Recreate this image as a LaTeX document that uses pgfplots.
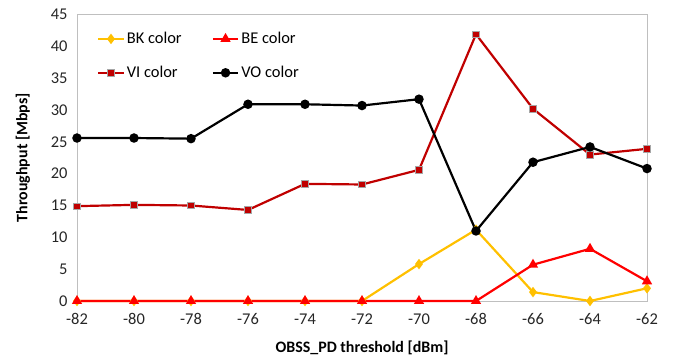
\documentclass[border=0pt]{standalone}
\usepackage{fontspec}
\setmainfont{Carlito}
\usepackage{pgfplots}
\pgfplotsset{compat=1.18}
\definecolor{bkc}{HTML}{FFC000}
\definecolor{bec}{HTML}{FF0000}
\definecolor{vic}{HTML}{C00000}
\definecolor{frame}{HTML}{BFBFBF}
\begin{document}
\begin{tikzpicture}
\begin{axis}[
  name=ax,
  scale only axis,
  width=570bp, height=286.5bp,
  xmin=-82, xmax=-62, ymin=0, ymax=45,
  xtick={-82,-80,...,-62}, ytick={0,5,...,45},
  major tick length=0pt,
  axis line style={frame, line width=0.8pt},
  /pgf/number format/assume math mode=true,
  ticklabel style={font=\fontsize{16.5}{18}\selectfont, text=black!85},
  xticklabel style={yshift=-9bp},
  yticklabel style={xshift=-6bp},
  xlabel={\textbf{OBSS\_PD threshold [dBm]}},
  ylabel={\textbf{Throughput [Mbps]}},
  label style={font=\fontsize{16}{18}\selectfont},
  xlabel style={yshift=-9bp},
  ylabel style={yshift=14bp},
  legend columns=2,
  legend cell align=left,
  legend style={draw=none, fill=none, at={(0.035,0.945)}, anchor=north west,
    font=\fontsize{16.5}{19}\selectfont, row sep=17bp, inner sep=0pt,
    /tikz/every even column/.append style={column sep=28bp}},
  legend image code/.code={\draw[mark repeat=2,mark phase=2] plot coordinates {(0cm,0cm) (0.45cm,0cm) (0.9cm,0cm)};},
  clip=false,
]
\addplot[bkc, line width=2.2pt, mark=diamond*, mark size=3.5pt, mark options={fill=bkc}] coordinates {
(-82,0) (-80,0) (-78,0) (-76,0) (-74,0) (-72,0) (-70,5.8) (-68,11.2) (-66,1.4) (-64,0) (-62,2.0)};
\addlegendentry{BK color}
\addplot[bec, line width=2.2pt, mark=triangle*, mark size=3.8pt, mark options={fill=bec}] coordinates {
(-82,0) (-80,0) (-78,0) (-76,0) (-74,0) (-72,0) (-70,0) (-68,0) (-66,5.7) (-64,8.2) (-62,3.1)};
\addlegendentry{BE color}
\addplot[vic, line width=2.2pt, mark=square*, mark size=3.3pt, mark options={fill=vic, draw=gray!70, line width=0.6pt}] coordinates {
(-82,14.9) (-80,15.1) (-78,15.0) (-76,14.3) (-74,18.4) (-72,18.3) (-70,20.6) (-68,41.9) (-66,30.2) (-64,23.0) (-62,23.9)};
\addlegendentry{VI color}
\addplot[black, line width=2.2pt, mark=*, mark size=3.6pt] coordinates {
(-82,25.6) (-80,25.6) (-78,25.5) (-76,30.9) (-74,30.9) (-72,30.7) (-70,31.7) (-68,11.0) (-66,21.8) (-64,24.2) (-62,20.8)};
\addlegendentry{VO color}
\end{axis}
\path[use as bounding box] ([shift={(-77bp,-57bp)}]ax.south west) rectangle ([shift={(28bp,14.5bp)}]ax.north east);
\end{tikzpicture}
\end{document}
